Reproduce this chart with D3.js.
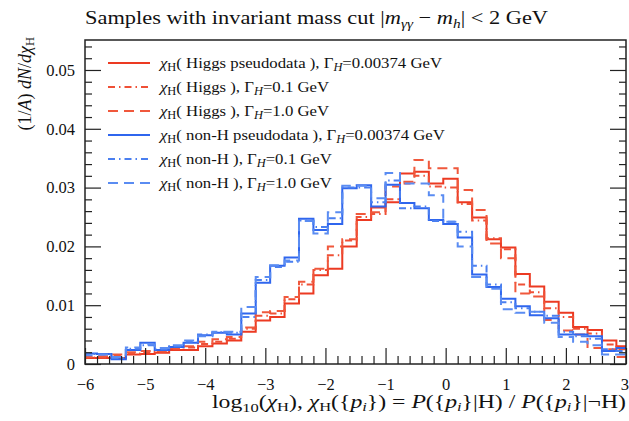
<!DOCTYPE html>
<html><head><meta charset="utf-8">
<script src="https://cdn.jsdelivr.net/npm/d3@7"></script>
<style>
body{margin:0;background:#fff}
svg{display:block}
text{font-family:"Liberation Serif","DejaVu Serif",serif;fill:#111}
</style>
</head><body>
<svg id="c" width="629" height="421"></svg>
<script>
// ---- data ----
const binStart = -6.04, binWidth = 0.24;   // histogram bins in log10(chi_H)
const higgsPseudo = [0.0010,0.0010,0.0010,0.0016,0.0017,0.0019,0.0024,0.0024,0.0030,0.0035,0.0040,0.0055,0.0074,0.0080,0.0103,0.0120,0.0151,0.0162,0.0200,0.0245,0.0266,0.0275,0.0324,0.0327,0.0307,0.0315,0.0275,0.0249,0.0212,0.0198,0.0153,0.0132,0.0106,0.0087,0.0063,0.0058,0.0040,0.0030];
const higgs01 = [0.0011,0.0011,0.0014,0.0018,0.0020,0.0021,0.0026,0.0028,0.0034,0.0038,0.0043,0.0060,0.0082,0.0086,0.0110,0.0135,0.0160,0.0185,0.0210,0.0250,0.0255,0.0280,0.0307,0.0320,0.0302,0.0300,0.0272,0.0244,0.0214,0.0195,0.0135,0.0122,0.0095,0.0080,0.0060,0.0052,0.0033,0.0025];
const higgs10 = [0.0012,0.0013,0.0016,0.0020,0.0022,0.0022,0.0027,0.0030,0.0038,0.0042,0.0046,0.0062,0.0088,0.0090,0.0114,0.0140,0.0162,0.0200,0.0212,0.0255,0.0258,0.0302,0.0310,0.0347,0.0333,0.0333,0.0296,0.0262,0.0205,0.0180,0.0120,0.0115,0.0075,0.0057,0.0050,0.0027,0.0025,0.0012];
const nonHPseudo = [0.0018,0.0017,0.0008,0.0024,0.0036,0.0024,0.0029,0.0036,0.0049,0.0053,0.0050,0.0086,0.0138,0.0167,0.0181,0.0247,0.0228,0.0238,0.0299,0.0304,0.0268,0.0305,0.0274,0.0265,0.0245,0.0238,0.0215,0.0152,0.0131,0.0111,0.0098,0.0083,0.0078,0.0050,0.0050,0.0047,0.0022,0.0027];
const nonH01 = [0.0017,0.0016,0.0010,0.0026,0.0032,0.0025,0.0030,0.0038,0.0050,0.0054,0.0053,0.0080,0.0143,0.0165,0.0174,0.0244,0.0233,0.0248,0.0300,0.0300,0.0275,0.0312,0.0265,0.0268,0.0243,0.0242,0.0225,0.0167,0.0135,0.0105,0.0095,0.0089,0.0082,0.0055,0.0047,0.0043,0.0025,0.0022];
const nonH10 = [0.0015,0.0016,0.0012,0.0028,0.0033,0.0027,0.0032,0.0040,0.0047,0.0055,0.0055,0.0097,0.0148,0.0168,0.0176,0.0243,0.0222,0.0258,0.0303,0.0303,0.0282,0.0325,0.0307,0.0307,0.0287,0.0242,0.0200,0.0148,0.0128,0.0093,0.0087,0.0089,0.0070,0.0046,0.0038,0.0032,0.0016,0.0016];
const xTicks = [-6,-5,-4,-3,-2,-1,0,1,2,3];
const yTicks = [0,0.01,0.02,0.03,0.04,0.05];
const yTickLabels = ["0","0.01","0.02","0.03","0.04","0.05"];
const seriesNames = ["Higgs pseudodata","Higgs","Higgs","non-H pseudodata","non-H","non-H"];
const widths = ["0.00374","0.1","1.0","0.00374","0.1","1.0"];

const series = [
  {vals: higgsPseudo, color:"#ec3a22", dash:null},
  {vals: higgs01, color:"#ef5036", dash:"7,4,1.5,4"},
  {vals: higgs10, color:"#f0583c", dash:"10,6"},
  {vals: nonHPseudo, color:"#2f66ee", dash:null},
  {vals: nonH01, color:"#4a7ff0", dash:"7,4,1.5,4"},
  {vals: nonH10, color:"#5a8cf2", dash:"10,6"}
];

// ---- layout ----
const L=85, R=626, T=40, B=364;
const svg = d3.select("#c");
const x = d3.scaleLinear().domain([-6,3]).range([L,R]);
const y = d3.scaleLinear().domain([0,0.0551]).range([B,T]);

svg.append("clipPath").attr("id","clip").append("rect")
  .attr("x",L).attr("y",T).attr("width",R-L).attr("height",B-T);

const line = d3.line().curve(d3.curveStepAfter).x(d=>x(d[0])).y(d=>y(d[1]));
const g = svg.append("g").attr("clip-path","url(#clip)");
series.forEach(s=>{
  const pts = s.vals.map((v,i)=>[binStart+i*binWidth, v]);
  pts.push([binStart+s.vals.length*binWidth, s.vals[s.vals.length-1]]);
  g.append("path").attr("d",line(pts)).attr("fill","none")
    .attr("stroke",s.color).attr("stroke-width",2)
    .attr("stroke-dasharray",s.dash);
});

// ---- axes ----
const minorX = d3.range(-30,16).map(i=>i*0.2).filter(v=>Math.abs(v-Math.round(v))>1e-6);
const minorY = d3.range(1,28).map(i=>i*0.002).filter(v=>Math.abs(v*100-Math.round(v*100))>1e-6);

function styleAxis(sel){
  sel.select(".domain").remove();
  sel.selectAll(".tick line").attr("stroke","#222").attr("stroke-width",1.2);
  sel.selectAll("text").style("font-size","16.5px").attr("fill","#111");
}
svg.append("g").attr("transform",`translate(0,${B})`)
  .call(d3.axisBottom(x).tickValues(minorX).tickSize(-8).tickFormat(""))
  .call(styleAxis);
const xAxisG = svg.append("g").attr("transform",`translate(0,${B})`)
  .call(d3.axisBottom(x).tickValues(xTicks).tickSize(-16).tickPadding(14).tickFormat(d3.format("d")))
  .call(styleAxis);
// keep the last label inside the picture
xAxisG.selectAll(".tick text").filter(d=>d===3).attr("text-anchor","end").attr("x",2.5);
svg.append("g").attr("transform",`translate(${L},0)`)
  .call(d3.axisLeft(y).tickValues(minorY).tickSize(-7).tickFormat(""))
  .call(styleAxis);
svg.append("g").attr("transform",`translate(${L},0)`)
  .call(d3.axisLeft(y).tickValues(yTicks).tickSize(-16).tickPadding(10).tickFormat((d,i)=>yTickLabels[i]))
  .call(styleAxis);
svg.append("g").attr("transform",`translate(${R},0)`)
  .call(d3.axisRight(y).tickValues(minorY).tickSize(-7).tickFormat(""))
  .call(styleAxis);
svg.append("g").attr("transform",`translate(${R},0)`)
  .call(d3.axisRight(y).tickValues(yTicks).tickSize(-16).tickFormat(""))
  .call(styleAxis);

svg.append("rect").attr("x",L).attr("y",T).attr("width",R-L).attr("height",B-T)
  .attr("fill","none").attr("stroke","#222").attr("stroke-width",1.5);

function stretch(t, factor){
  const n = t.node().getComputedTextLength();
  t.attr("textLength", n*factor).attr("lengthAdjust","spacingAndGlyphs");
}

// ---- title ----
const title = svg.append("text").attr("x",85).attr("y",24).style("font-size","19px");
title.append("tspan").text("Samples with invariant mass cut |");
title.append("tspan").attr("font-style","italic").text("m");
title.append("tspan").attr("font-style","italic").attr("font-size","13px").attr("dy",4).text("γγ");
title.append("tspan").attr("dy",-4).text(" − ");
title.append("tspan").attr("font-style","italic").text("m");
title.append("tspan").attr("font-style","italic").attr("font-size","13px").attr("dy",4).text("h");
title.append("tspan").attr("dy",-4).text("| < 2 GeV");
stretch(title, 463/title.node().getComputedTextLength());

// ---- legend ----
const leg = svg.append("g");
series.forEach((s,i)=>{
  const cy = 63 + i*24;
  leg.append("line").attr("x1",108).attr("x2",150).attr("y1",cy).attr("y2",cy)
    .attr("stroke",s.color).attr("stroke-width",2).attr("stroke-dasharray",s.dash);
  const t = leg.append("text").attr("x",160).attr("y",cy+5).style("font-size","15.5px");
  t.append("tspan").attr("font-style","italic").text("χ");
  t.append("tspan").attr("font-size","11.5px").attr("dy",3).text("H");
  t.append("tspan").attr("dy",-3).text("( "+seriesNames[i]+" ), Γ");
  t.append("tspan").attr("font-style","italic").attr("font-size","11.5px").attr("dy",3).text("H");
  t.append("tspan").attr("dy",-3).text("="+widths[i]+" GeV");
  stretch(t, 1.08);
});

// ---- axis labels ----
const xl = svg.append("text").attr("x",212).attr("y",408).style("font-size","18px");
xl.append("tspan").text("log");
xl.append("tspan").attr("font-size","12.5px").attr("dy",4).text("10");
xl.append("tspan").attr("dy",-4).text("(");
xl.append("tspan").attr("font-style","italic").text("χ");
xl.append("tspan").attr("font-size","12.5px").attr("dy",3).text("H");
xl.append("tspan").attr("dy",-3).text("),   ");
xl.append("tspan").attr("font-style","italic").text("χ");
xl.append("tspan").attr("font-size","12.5px").attr("dy",3).text("H");
xl.append("tspan").attr("dy",-3).text("({");
xl.append("tspan").attr("font-style","italic").text("p");
xl.append("tspan").attr("font-style","italic").attr("font-size","12.5px").attr("dy",3).text("i");
xl.append("tspan").attr("dy",-3).text("}) = ");
xl.append("tspan").attr("font-style","italic").text("P");
xl.append("tspan").text("({");
xl.append("tspan").attr("font-style","italic").text("p");
xl.append("tspan").attr("font-style","italic").attr("font-size","12.5px").attr("dy",3).text("i");
xl.append("tspan").attr("dy",-3).text("}|H) / ");
xl.append("tspan").attr("font-style","italic").text("P");
xl.append("tspan").text("({");
xl.append("tspan").attr("font-style","italic").text("p");
xl.append("tspan").attr("font-style","italic").attr("font-size","12.5px").attr("dy",3).text("i");
xl.append("tspan").attr("dy",-3).text("}|¬H)");
stretch(xl, 414/xl.node().getComputedTextLength());

const yl = svg.append("text").attr("transform","translate(31,37) rotate(-90)").attr("text-anchor","end").style("font-size","18px");
yl.append("tspan").text("(1/");
yl.append("tspan").attr("font-style","italic").text("A");
yl.append("tspan").text(") ");
yl.append("tspan").attr("font-style","italic").text("dN");
yl.append("tspan").text("/");
yl.append("tspan").attr("font-style","italic").text("dχ");
yl.append("tspan").attr("font-size","12.5px").attr("dy",3).text("H");
</script>
</body></html>
